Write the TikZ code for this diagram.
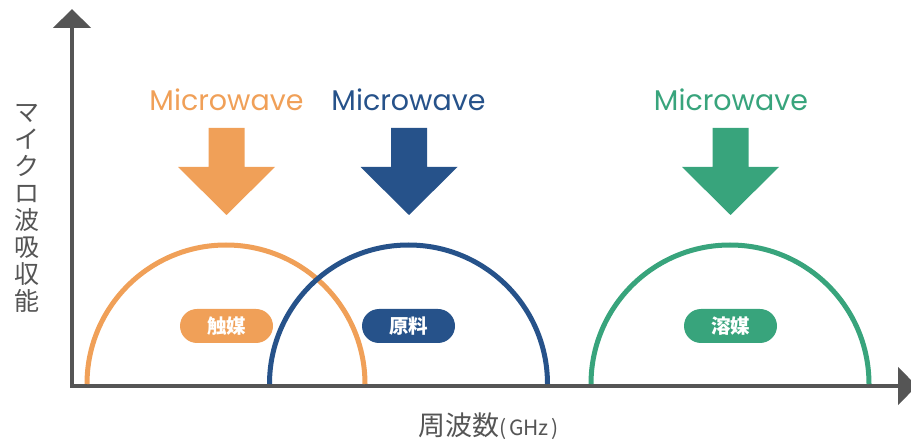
\documentclass[tikz,border=0pt]{standalone}
\usepackage{fontspec}
\newfontfamily\cjk{Noto Sans CJK JP}
\newfontfamily\pop{Poppins}
\usetikzlibrary{arrows.meta}
\definecolor{cOrange}{RGB}{240,160,88}
\definecolor{cBlue}{RGB}{38,82,138}
\definecolor{cGreen}{RGB}{56,164,124}
\definecolor{cAxis}{RGB}{85,85,85}
\begin{document}
\begin{tikzpicture}[x=1pt,y=-1pt,
  axisline/.style={draw=cAxis,line width=4.5pt,line join=miter,
    {Triangle[width=37pt,length=19pt]}-{Triangle[width=37pt,length=19pt]}},
  hump/.style={line width=5pt},
  mwlabel/.style={font=\pop\fontsize{28.5}{32}\selectfont,inner sep=0pt},
  pill/.style={rounded corners=17pt,minimum width=93pt,minimum height=34pt,inner sep=0pt,
    text=white,font=\cjk\bfseries\fontsize{19.5}{22}\selectfont},
  pics/downarr/.style={code={
    \fill[#1] (-18,128) -- (18,128) -- (18,167) -- (48.5,167) -- (0,215)
      -- (-48.5,167) -- (-18,167) -- cycle;}}
]
\useasboundingbox (0,0) rectangle (911,443);
% axes
\coordinate (ytip) at (72,9);
\coordinate (origin) at (72,386);
\coordinate (xtip) at (917,386);
\draw[axisline] (ytip) -- (origin) -- (xtip);
% humps
\draw[hump,cOrange] (87,384) arc[start angle=180,end angle=360,radius=139];
\draw[hump,cBlue] (269.5,384) arc[start angle=180,end angle=360,radius=139];
\draw[hump,cGreen] (591,384) arc[start angle=180,end angle=360,radius=139];
% block arrows
\pic at (226.5,0) {downarr=cOrange};
\pic at (409,0) {downarr=cBlue};
\pic at (730.5,0) {downarr=cGreen};
% microwave labels
\node[mwlabel,text=cOrange] (mw1) at (226.5,100) {Microwave};
\node[mwlabel,text=cBlue] (mw2) at (408.5,100) {Microwave};
\node[mwlabel,text=cGreen] (mw3) at (731,100) {Microwave};
% pills
\node[pill,fill=cOrange] (p1) at (226.5,326) {触媒};
\node[pill,fill=cBlue] (p2) at (408.5,326) {原料};
\node[pill,fill=cGreen] (p3) at (730.5,326) {溶媒};
% axis labels
\node[text=cAxis,font=\cjk\fontsize{25}{27}\selectfont,align=center,inner sep=0pt] (ylab) at (27,208)
  {マ\\イ\\ク\\ロ\\波\\吸\\収\\能};
\node[text=cAxis,inner sep=0pt,anchor=base] (xlab) at (488.5,436)
  {{\cjk\fontsize{27}{30}\selectfont 周波数}{\cjk\fontsize{21}{24}\selectfont (\kern3pt GHz\kern3pt)}};
\end{tikzpicture}
\end{document}
